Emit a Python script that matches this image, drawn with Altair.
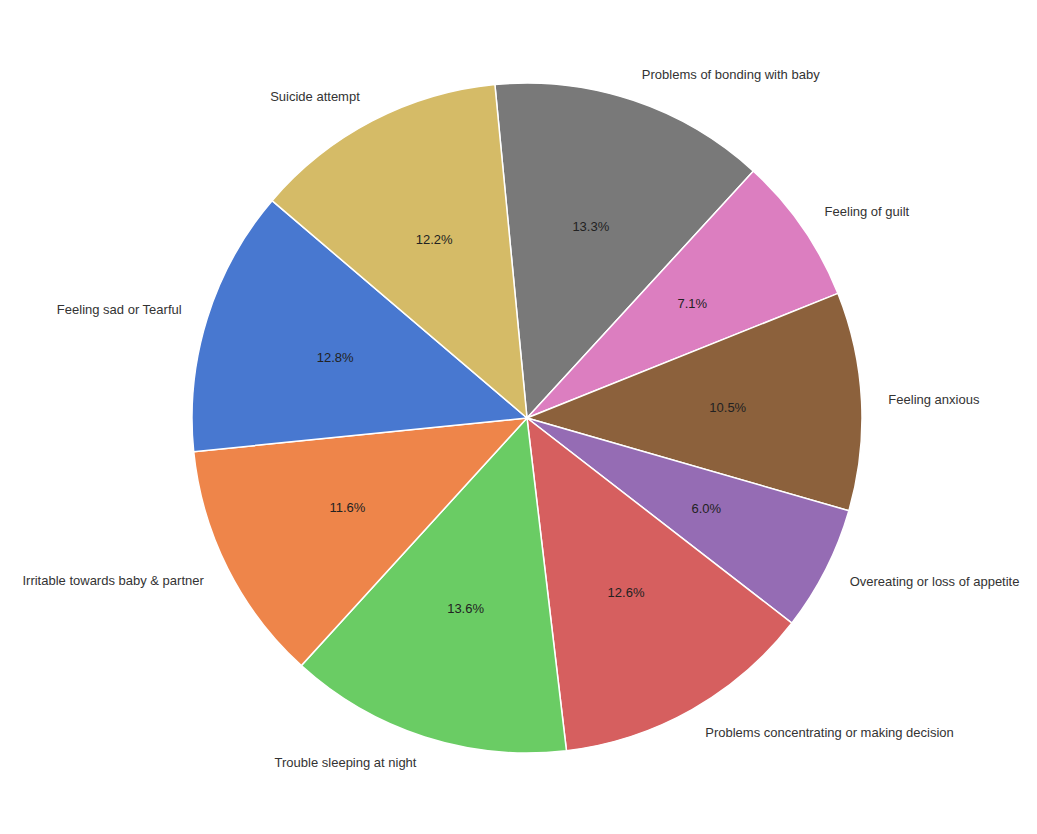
import math
import altair as alt
import pandas as pd

labels = [
    "Problems of bonding with baby",
    "Feeling of guilt",
    "Feeling anxious",
    "Overeating or loss of appetite",
    "Problems concentrating or making decision",
    "Trouble sleeping at night",
    "Irritable towards baby & partner",
    "Feeling sad or Tearful",
    "Suicide attempt",
]
values = [13.3, 7.1, 10.5, 6.0, 12.6, 13.6, 11.6, 12.8, 12.2]
colors = ["#797979", "#dc7ec0", "#8c613c", "#956cb4", "#d65f5f",
          "#6acc64", "#ee854a", "#4878d0", "#d5bb67"]

start = -0.096
total = sum(values)
rows = []
cum = 0.0
for i, (l, v) in enumerate(zip(labels, values)):
    mid = start + 2 * math.pi * (cum + v / 2) / total
    cum += v
    rows.append({"label": l, "value": v, "idx": i,
                 "pct": f"{v:.1f}%",
                 "side": "right" if math.sin(mid) > 0 else "left"})
df = pd.DataFrame(rows)

R = 335
CX, CY = 527, 418
theta_scale = alt.Scale(range=[start, start + 2 * math.pi])

base = alt.Chart(df).encode(
    theta=alt.Theta("value:Q", stack=True, scale=theta_scale),
    order=alt.Order("idx:Q"),
    x=alt.value(CX),
    y=alt.value(CY),
)

pie = base.mark_arc(outerRadius=R, stroke="white", strokeWidth=1.5).encode(
    color=alt.Color("label:N", scale=alt.Scale(domain=labels, range=colors), legend=None)
)

pct = base.mark_text(radius=R * 0.6, fontSize=13, font="Liberation Sans",
                     color="#222222", baseline="middle", align="center").encode(
    text="pct:N"
)

lab_right = base.mark_text(radius=R * 1.08, fontSize=13, font="Liberation Sans",
                           color="#333333", baseline="middle", align="left").encode(
    text=alt.condition("datum.side == 'right'", "label:N", alt.value(""))
)
lab_left = base.mark_text(radius=R * 1.08, fontSize=13, font="Liberation Sans",
                          color="#333333", baseline="middle", align="right").encode(
    text=alt.condition("datum.side == 'left'", "label:N", alt.value(""))
)

chart = alt.layer(pie, pct, lab_right, lab_left).properties(
    width=1037, height=834, autosize="none", padding=0,
    background="white"
).configure_view(stroke=None)

chart.save("out.html", embed_options={"renderer": "svg", "actions": False})
